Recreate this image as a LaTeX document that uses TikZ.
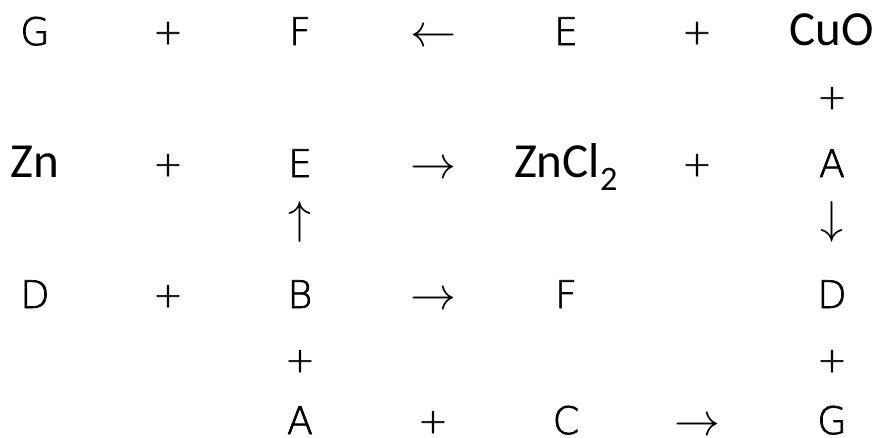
\documentclass[tikz,border=0pt]{standalone}
\usepackage{graphicx}
\usepackage{fontspec}
\usepackage{amsmath}
\usetikzlibrary{positioning}
\newfontfamily\thinfont[FakeBold=1.8]{DejaVu Sans ExtraLight}
\newfontfamily\formfont{Carlito}
\newcommand{\bigarr}[1]{\scalebox{4.6}{$#1$}}

\begin{document}
\begin{tikzpicture}[
    x=1pt, y=-1pt,
    sym/.style={inner sep=0pt, anchor=base, font=\thinfont\fontsize{38}{40}\selectfont},
    pl/.style={inner sep=0pt, anchor=base, font=\thinfont\fontsize{35}{37}\selectfont},
    form/.style={inner sep=0pt, anchor=base, font=\formfont\fontsize{49}{50}\selectfont},
    arr/.style={inner sep=0pt, anchor=base}
]
\useasboundingbox (0,0) rectangle (875,437);
% row 1
\node[sym] (g1) at (35,45) {G};
\node[pl] (p11) at (168,44) {+};
\node[sym] (f1) at (300,45) {F};
\node[arr] (la) at (433,46) {\bigarr{\leftarrow}};
\node[sym] (e1) at (566,45) {E};
\node[pl] (p12) at (697,44) {+};
\node[form] (cuo) at (832,45) {CuO};
% row 2
\node[pl] (p2) at (832,109) {+};
% row 3
\node[form] (zn) at (35,177) {Zn};
\node[pl] (p31) at (168,176) {+};
\node[sym] (e3) at (300,177) {E};
\node[arr] (ra1) at (433,178) {\bigarr{\rightarrow}};
\node[form] (zncl) at (566,177) {ZnCl\textsubscript{2}};
\node[pl] (p32) at (697,176) {+};
\node[sym] (a3) at (832,177) {A};
% row 4
\node[arr] (ua) at (300,233) {\bigarr{\uparrow}};
\node[arr] (da) at (832,233) {\bigarr{\downarrow}};
% row 5
\node[sym] (d5) at (35,308) {D};
\node[pl] (p5) at (168,307) {+};
\node[sym] (b5) at (300,308) {B};
\node[arr] (ra2) at (433,309) {\bigarr{\rightarrow}};
\node[sym] (f5) at (566,308) {F};
\node[sym] (d7) at (832,308) {D};
% row 6
\node[pl] (p61) at (300,372) {+};
\node[pl] (p62) at (832,372) {+};
% row 7
\node[sym] (a7) at (300,434) {A};
\node[pl] (p7) at (433,433) {+};
\node[sym] (c7) at (566,434) {C};
\node[arr] (ra3) at (697,435) {\bigarr{\rightarrow}};
\node[sym] (g7) at (832,434) {G};
\end{tikzpicture}
\end{document}
